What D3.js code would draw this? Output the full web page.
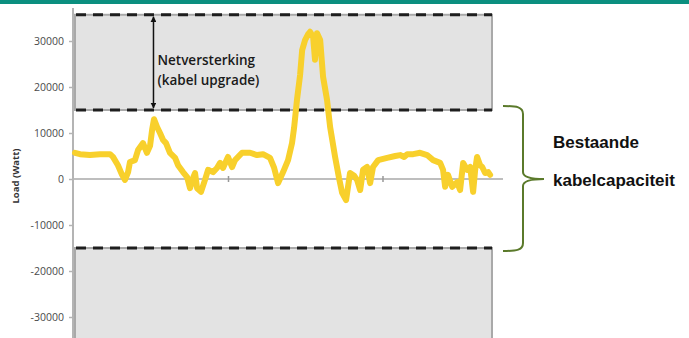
<!DOCTYPE html>
<html>
<head>
<meta charset="utf-8">
<script src="https://cdn.jsdelivr.net/npm/d3@7/dist/d3.min.js"></script>
<style>
  html, body { margin: 0; padding: 0; background: #fff; }
  svg { display: block; }
</style>
</head>
<body>
<svg id="chart" width="689" height="338"></svg>
<script>
// Household load over one day (hours) in Watt
const hours = [0.06,0.35,0.93,1.52,2.10,2.27,2.56,2.80,2.97,3.15,3.26,3.55,3.73,4.02,4.25,4.43,4.55,4.66,4.84,5.01,
  5.19,5.36,5.59,5.89,6.06,6.35,6.59,6.76,6.93,7.05,7.17,7.40,7.63,7.81,8.10,8.33,8.51,8.68,8.97,9.21,
  9.38,9.79,10.26,10.66,11.01,11.42,11.66,11.89,12.18,12.47,12.70,12.82,12.99,13.17,13.29,13.46,13.64,13.75,13.93,14.04,
  14.16,14.34,14.51,14.74,14.92,15.21,15.44,15.62,15.85,16.08,16.32,16.49,16.67,16.84,17.07,17.25,17.42,17.72,18.24,18.71,
  19.00,19.23,19.41,19.76,20.16,20.57,20.92,21.33,21.50,21.62,21.79,22.03,22.32,22.49,22.67,22.90,23.08,23.25,23.37,23.48,
  23.66,23.78,23.95,24.13,24.24];
const loadWatt = [5700,5400,5200,5400,5400,4800,3000,900,-200,1500,3700,4100,6300,7800,5700,7200,10700,13000,11300,10000,
  8500,7800,5700,4600,3000,1500,400,-2000,200,1300,-2000,-2800,-200,2000,1500,2400,3500,2400,4800,2600,
  4100,5700,5700,5200,5400,4600,2400,-900,1500,4100,7800,11100,17200,22600,28000,30200,31500,32000,30900,25900,
  31700,30200,22200,17200,11300,4800,200,-3000,-4600,1300,700,-200,-2400,2000,2600,-900,2600,4100,4600,5000,
  5200,4800,5400,5400,5700,5200,4100,3500,2000,-1700,900,-1700,-700,-2400,3500,2000,2600,-2800,2000,4800,
  3000,2600,1300,1500,900];

const yTicks = [30000, 20000, 10000, 0, -10000, -20000, -30000];
const xTicks = [9, 18];

// Cable capacity limits (Watt)
const existingCapacity = 15000;
const upgradedCapacity = 35700;
const arrowHour = 4.63;

const texts = {
  yLabel: "Load (Watt)",
  upgrade: ["Netversterking", "(kabel upgrade)"],
  existing: ["Bestaande", "kabelcapaciteit"]
};

const svg = d3.select("#chart");

const x = d3.scaleLinear().domain([0, 24.35]).range([74, 492]);
const y = d3.scaleLinear().domain([-35000, 35000]).range([340, 18]);

// Top banner
svg.append("rect").attr("x", 0).attr("y", 0).attr("width", 689).attr("height", 4).attr("fill", "#0b8f7f");

const x0 = x.range()[0], x1 = x.range()[1];

// Capacity bands
svg.append("rect")
  .attr("x", x0 + 1).attr("y", y(upgradedCapacity))
  .attr("width", x1 - x0 - 1).attr("height", y(existingCapacity) - y(upgradedCapacity))
  .attr("fill", "#e3e3e3").attr("stroke", "#a9a9a9").attr("stroke-width", 2);
svg.append("rect")
  .attr("x", x0 + 1).attr("y", y(-existingCapacity))
  .attr("width", x1 - x0 - 1).attr("height", y(-40000) - y(-existingCapacity))
  .attr("fill", "#e3e3e3").attr("stroke", "#a9a9a9").attr("stroke-width", 2);

[upgradedCapacity, existingCapacity, -existingCapacity].forEach(v => {
  svg.append("line")
    .attr("x1", x0 + 2).attr("x2", x1)
    .attr("y1", y(v)).attr("y2", y(v))
    .attr("stroke", "#1e1e1e").attr("stroke-width", 3)
    .attr("stroke-dasharray", "10,7");
});

// Y axis
const yAxis = d3.axisLeft(y).tickValues(yTicks).tickSize(4).tickPadding(5)
  .tickFormat(d => String(d));
const gy = svg.append("g").attr("transform", `translate(${x0 - 1},0)`).call(yAxis);
gy.select(".domain").remove();
gy.selectAll(".tick line").attr("stroke", "#b4b4b4").attr("stroke-width", 1.5);
gy.selectAll(".tick text")
  .attr("fill", "#4a4a4a")
  .style("font-family", "'Open Sans', sans-serif")
  .style("font-size", "10.5px");
svg.append("line")
  .attr("x1", x0 - 1).attr("x2", x0 - 1)
  .attr("y1", 8).attr("y2", 338)
  .attr("stroke", "#b4b4b4").attr("stroke-width", 2);

svg.append("text")
  .attr("transform", `translate(19,${y(0) - 3}) rotate(-90)`)
  .attr("text-anchor", "middle")
  .attr("fill", "#333")
  .style("font-family", "'Open Sans', sans-serif")
  .style("font-size", "9.5px")
  .style("font-weight", "700")
  .text(texts.yLabel);

// Zero line with hour ticks
svg.append("line")
  .attr("x1", x0).attr("x2", x1 + 11)
  .attr("y1", y(0)).attr("y2", y(0))
  .attr("stroke", "#a8a8a8").attr("stroke-width", 1.5);
svg.selectAll(".xtick").data(xTicks).join("line")
  .attr("class", "xtick")
  .attr("x1", d => x(d)).attr("x2", d => x(d))
  .attr("y1", y(0) - 3).attr("y2", y(0) + 3)
  .attr("stroke", "#999").attr("stroke-width", 1.5);

// Load curve
const series = hours.map((h, i) => ({ h, v: loadWatt[i] }));
svg.append("path")
  .datum(series)
  .attr("fill", "none")
  .attr("stroke", "#f8d02c")
  .attr("stroke-width", 6)
  .attr("stroke-linejoin", "round")
  .attr("stroke-linecap", "round")
  .attr("d", d3.line().x(d => x(d.h)).y(d => y(d.v)));

// Upgrade arrow
const defs = svg.append("defs");
defs.append("marker")
  .attr("id", "head")
  .attr("viewBox", "0 0 10 10").attr("refX", 9).attr("refY", 5)
  .attr("markerWidth", 4).attr("markerHeight", 4)
  .attr("orient", "auto-start-reverse")
  .append("path").attr("d", "M0,0 L10,5 L0,10 Z").attr("fill", "#111");
svg.append("line")
  .attr("x1", x(arrowHour)).attr("x2", x(arrowHour))
  .attr("y1", y(upgradedCapacity) + 2).attr("y2", y(existingCapacity) - 2)
  .attr("stroke", "#111").attr("stroke-width", 1.5)
  .attr("marker-start", "url(#head)").attr("marker-end", "url(#head)");

svg.selectAll(".upg").data(texts.upgrade).join("text")
  .attr("class", "upg")
  .attr("x", x(arrowHour) + 4)
  .attr("y", (d, i) => 65 + i * 20)
  .attr("fill", "#1a1a1a")
  .style("font-family", "'Open Sans', sans-serif")
  .style("font-size", "13.5px")
  .style("font-weight", "600")
  .text(d => d);

// Brace for the existing capacity
const bx = x1 + 11, bTop = y(existingCapacity) - 4, bBot = y(-existingCapacity) + 3, bMid = y(0);
svg.append("path")
  .attr("fill", "none").attr("stroke", "#5b7a2b").attr("stroke-width", 2)
  .attr("d", `M${bx},${bTop} C${bx + 14},${bTop} ${bx + 20},${bTop + 1} ${bx + 20},${bTop + 8}
    L${bx + 20},${bMid - 7} C${bx + 20},${bMid - 2} ${bx + 28},${bMid} ${bx + 41},${bMid}
    C${bx + 28},${bMid} ${bx + 20},${bMid + 2} ${bx + 20},${bMid + 7}
    L${bx + 20},${bBot - 8} C${bx + 20},${bBot - 1} ${bx + 14},${bBot} ${bx},${bBot}`);

svg.selectAll(".cap").data(texts.existing).join("text")
  .attr("class", "cap")
  .attr("x", 553)
  .attr("y", (d, i) => 148 + i * 38)
  .attr("fill", "#111")
  .style("font-family", "'Liberation Sans', Arial, sans-serif")
  .style("font-size", "17px")
  .style("font-weight", "bold")
  .text(d => d);
</script>
</body>
</html>
